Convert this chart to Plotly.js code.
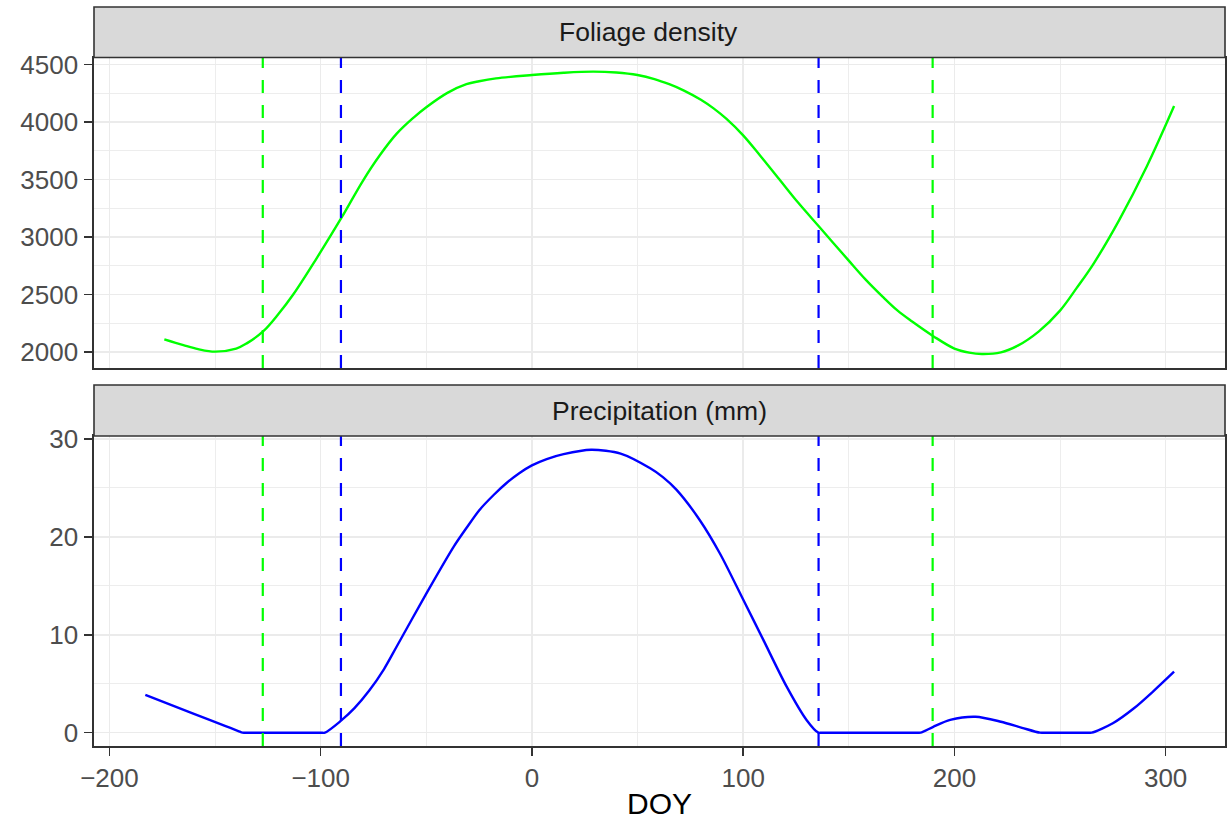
<!DOCTYPE html>
<html>
<head>
<meta charset="utf-8">
<script src="https://cdn.plot.ly/plotly-3.0.1.min.js"></script>
<style>html,body{margin:0;padding:0;background:#fff;}#chart{width:1230px;height:820px;}</style>
</head>
<body>
<div id="chart"></div>
<script>
// ---- data ----
const panelTitles = ["Foliage density", "Precipitation (mm)"];

const foliageDOY = [-174, -165, -158, -150, -140, -135, -127, -120, -113, -102, -90, -80, -72, -64, -56, -50, -40, -31, -25, -17, 0, 15, 29, 40, 50, 58, 65, 72, 80, 86, 92, 100, 108, 117, 126, 136, 150, 158, 166, 173, 180, 190, 200, 207, 213, 222, 230, 240, 250, 258, 266, 278, 291, 304];
const foliageVal = [2110, 2060, 2025, 2003, 2030, 2075, 2183, 2330, 2500, 2813, 3173, 3490, 3712, 3900, 4040, 4130, 4255, 4330, 4356, 4381, 4410, 4430, 4440, 4432, 4410, 4375, 4330, 4275, 4195, 4120, 4030, 3885, 3710, 3505, 3300, 3090, 2795, 2630, 2482, 2362, 2265, 2138, 2030, 1995, 1983, 1997, 2055, 2180, 2360, 2560, 2772, 3148, 3612, 4140];

const precipDOY = [-183, -160, -145, -139, -137, -135, -120, -100, -98, -90.5, -84, -77, -70, -64, -50, -37, -31, -25, -18, -12, -6, 0, 7, 15, 28, 42, 56, 62, 68.5, 79.5, 89, 100, 109.5, 120.6, 130, 135.6, 137, 160, 182, 184, 190, 198, 210, 222, 232, 240.5, 243, 263, 265, 275, 285, 294, 304];
const precipVal = [3.85, 1.93, 0.67, 0.17, 0, 0, 0, 0, 0, 1.2, 2.5, 4.3, 6.5, 8.8, 14.2, 19.0, 20.9, 22.7, 24.3, 25.5, 26.5, 27.3, 27.95, 28.45, 28.9, 28.5, 27.0, 26.1, 24.8, 21.7, 18.3, 13.6, 9.5, 4.7, 1.3, 0, 0, 0, 0, 0, 0.6, 1.3, 1.63, 1.12, 0.5, 0, 0, 0, 0, 0.96, 2.49, 4.2, 6.23];

const greenLines = [-127.4, 189.7];
const blueLines = [-90.4, 135.7];

const xTicks = [-200, -100, 0, 100, 200, 300];
const xTickText = ["\u2212200", "\u2212100", "0", "100", "200", "300"];
const foliageTicks = [2000, 2500, 3000, 3500, 4000, 4500];
const precipTicks = [0, 10, 20, 30];

// ---- layout geometry (pixels) ----
const W = 1230, H = 820;
const mL = 94, mR = 5, mT = 7, mB = 74;
const plotW = W - mL - mR;
const plotH = H - mT - mB;
const py = p => (H - mB - p) / plotH; // pixel y -> paper y
const px = p => (p - mL) / plotW;     // pixel x -> paper x
const top1 = 57.5, bot1 = 368, strip1Top = 7;
const top2 = 436, bot2 = 746, strip2Top = 385;

const GREEN = "#00FF00", BLUE = "#0000FF";
const gridCol = "#EBEBEB", frame = "#333333";
const FONT = "Liberation Sans, Arial, Helvetica, sans-serif";

const traces = [
  {x: foliageDOY, y: foliageVal, xaxis: "x", yaxis: "y", mode: "lines",
   line: {color: GREEN, width: 2.4, shape: "spline", smoothing: 1}, hoverinfo: "x+y", showlegend: false},
  {x: precipDOY, y: precipVal, xaxis: "x2", yaxis: "y2", mode: "lines",
   line: {color: BLUE, width: 2.4, shape: "spline", smoothing: 0.8}, hoverinfo: "x+y", showlegend: false}
];

const shapes = [];
[["x", "y domain"], ["x2", "y2 domain"]].forEach(([xr, yr]) => {
  greenLines.forEach(v => shapes.push({type: "line", xref: xr, yref: yr, x0: v, x1: v, y0: 0, y1: 1,
    line: {color: GREEN, width: 2.2, dash: "13px,12px"}}));
  blueLines.forEach(v => shapes.push({type: "line", xref: xr, yref: yr, x0: v, x1: v, y0: 0, y1: 1,
    line: {color: BLUE, width: 2.2, dash: "13px,12px"}}));
});
// strips
[[strip1Top, top1], [strip2Top, top2]].forEach(([a, b]) => {
  shapes.push({type: "rect", xref: "paper", yref: "paper", x0: 0, x1: 1, y0: py(b), y1: py(a),
    fillcolor: "#D9D9D9", line: {color: frame, width: 1.6}, layer: "above"});
});

const annotations = [
  {text: panelTitles[0], xref: "paper", yref: "paper", x: px(648.5), y: py((strip1Top + top1) / 2),
   xanchor: "center", yanchor: "middle", showarrow: false, font: {family: FONT, size: 26.5, color: "#1A1A1A"}},
  {text: panelTitles[1], xref: "paper", yref: "paper", x: px(659), y: py((strip2Top + top2) / 2),
   xanchor: "center", yanchor: "middle", showarrow: false, font: {family: FONT, size: 26.5, color: "#1A1A1A"}}
];

const axisCommon = {
  showline: true, linecolor: frame, linewidth: 1.6, mirror: true,
  showgrid: true, gridcolor: gridCol, gridwidth: 1.6, zeroline: false,
  tickfont: {family: FONT, size: 26, color: "#4D4D4D"},
  ticks: "outside", tickcolor: frame, tickwidth: 1.6, ticklen: 8
};
const xRange = [-207.3, 328.1];
const layout = {
  width: W, height: H,
  margin: {l: mL, r: mR, t: mT, b: mB},
  paper_bgcolor: "#FFFFFF", plot_bgcolor: "#FFFFFF",
  showlegend: false,
  font: {family: FONT},
  xaxis: Object.assign({}, axisCommon, {
    anchor: "y", domain: [0, 1], range: xRange, tickvals: xTicks, ticktext: xTickText,
    showticklabels: false, ticks: "",
    minor: {dtick: 50, tick0: -200, showgrid: true, gridcolor: gridCol, gridwidth: 0.9, ticks: ""}
  }),
  xaxis2: Object.assign({}, axisCommon, {
    anchor: "y2", domain: [0, 1], range: xRange, tickvals: xTicks, ticktext: xTickText,
    ticklabelstandoff: 0,
    minor: {dtick: 50, tick0: -200, showgrid: true, gridcolor: gridCol, gridwidth: 0.9, ticks: ""},
    title: {text: "DOY", font: {family: FONT, size: 30, color: "#000000"}, standoff: 14}
  }),
  yaxis: Object.assign({}, axisCommon, {
    anchor: "x", domain: [py(bot1), py(top1)], range: [1860.8, 4562.6], tickvals: foliageTicks,
    ticklabelstandoff: 1,
    minor: {dtick: 250, tick0: 2000, showgrid: true, gridcolor: gridCol, gridwidth: 0.9, ticks: ""}
  }),
  yaxis2: Object.assign({}, axisCommon, {
    anchor: "x2", domain: [py(bot2), py(top2)], range: [-1.36, 30.3], tickvals: precipTicks,
    ticklabelstandoff: 1,
    minor: {dtick: 5, tick0: 0, showgrid: true, gridcolor: gridCol, gridwidth: 0.9, ticks: ""}
  }),
  shapes: shapes,
  annotations: annotations
};

Plotly.newPlot("chart", traces, layout, {staticPlot: true, displayModeBar: false});
</script>
</body>
</html>
